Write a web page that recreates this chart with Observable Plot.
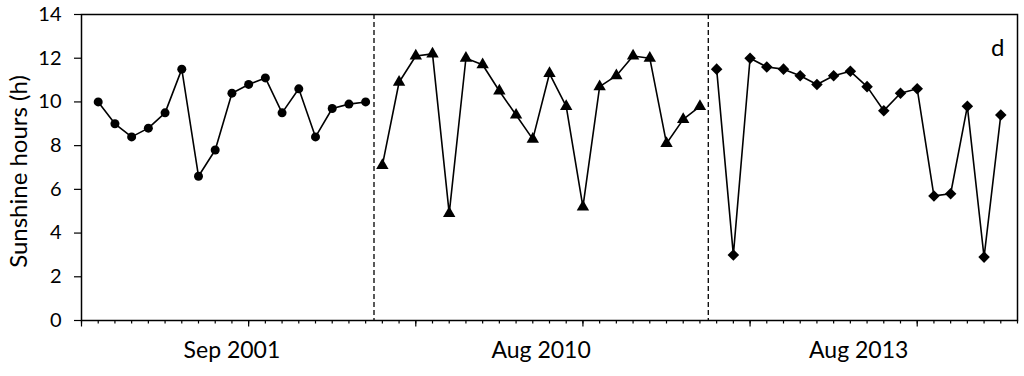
<!DOCTYPE html>
<html>
<head>
<meta charset="utf-8">
<script src="https://cdn.jsdelivr.net/npm/d3@7"></script>
<script src="https://cdn.jsdelivr.net/npm/@observablehq/plot@0.6"></script>
<style>
  html, body { margin: 0; padding: 0; background: #fff; }
</style>
</head>
<body>
<div id="chart"></div>
<script>
// Data
const groups = ["Sep 2001", "Aug 2010", "Aug 2013"];
const symbols = ["circle", "triangle", "diamond2"];
const sep2001 = [10.0, 9.0, 8.4, 8.8, 9.5, 11.5, 6.6, 7.8, 10.4, 10.8, 11.1, 9.5, 10.6, 8.4, 9.7, 9.9, 10.0];
const aug2010 = [7.1, 10.9, 12.1, 12.2, 4.9, 12.0, 11.7, 10.5, 9.4, 8.3, 11.3, 9.8, 5.2, 10.7, 11.2, 12.1, 12.0, 8.1, 9.2, 9.8];
const aug2013 = [11.5, 3.0, 12.0, 11.6, 11.5, 11.2, 10.8, 11.2, 11.4, 10.7, 9.6, 10.4, 10.6, 5.7, 5.8, 9.8, 2.9, 9.4];
const yTicks = [0, 2, 4, 6, 8, 10, 12, 14];
const yLabel = "Sunshine hours (h)";
const panelTag = "d";

// Build table
const series = [sep2001, aug2010, aug2013];
const rows = [];
const centers = [];
const separators = [];
let pos = 1;
series.forEach((vals, g) => {
  const start = pos;
  vals.forEach((v, i) => rows.push({group: groups[g], sym: symbols[g], x: pos + i, y: v}));
  pos += vals.length;
  centers.push({label: groups[g], x: (start + pos - 1) / 2});
  if (g < series.length - 1) separators.push(pos - 0.5);
});
const xMax = pos;

const font = "Lato, 'Open Sans', sans-serif";

const chart = Plot.plot({
  width: 1024,
  height: 376,
  marginLeft: 81,
  marginRight: 7,
  marginTop: 14,
  marginBottom: 56,
  style: {fontFamily: font, fontSize: "20px", color: "#000", background: "#fff"},
  x: {domain: [0, xMax]},
  y: {domain: [0, 14]},
  marks: [
    Plot.axisX({ticks: d3.range(0, xMax + 1), tickSize: 3.5, tickFormat: () => "", label: null, strokeWidth: 1.2}),
    Plot.axisX({ticks: d3.range(0, xMax + 1, 10), tickSize: 6.5, tickFormat: () => "", label: null, strokeWidth: 1.2}),
    Plot.axisY({ticks: yTicks, tickSize: 7, tickPadding: 13, label: null, fontSize: 20, strokeWidth: 1.2}),
    Plot.frame({stroke: "#000", strokeWidth: 1.5}),
    Plot.ruleX(separators, {stroke: "#000", strokeWidth: 1.3, strokeDasharray: "5,3"}),
    Plot.line(rows, {x: "x", y: "y", z: "group", stroke: "#000", strokeWidth: 1.6}),
    Plot.dot(rows.filter(d => d.sym === "circle"), {x: "x", y: "y", symbol: "circle", r: 4.5, fill: "#000", stroke: "none"}),
    Plot.dot(rows.filter(d => d.sym === "triangle"), {x: "x", y: "y", symbol: "triangle", r: 4.6, fill: "#000", stroke: "none"}),
    Plot.dot(rows.filter(d => d.sym === "diamond2"), {x: "x", y: "y", symbol: "diamond2", r: 5.2, fill: "#000", stroke: "none"}),
    Plot.text(centers, {x: "x", text: "label", frameAnchor: "bottom", dy: 37, fontSize: 23, fill: "#000"}),
    Plot.text([yLabel], {frameAnchor: "left", textAnchor: "middle", rotate: -90, dx: -62, dy: 4, fontSize: 24, fill: "#000"}),
    Plot.text([panelTag], {frameAnchor: "top-right", dx: -13, dy: 24, fontSize: 24, fill: "#000"})
  ]
});
document.getElementById("chart").appendChild(chart);
</script>
</body>
</html>
